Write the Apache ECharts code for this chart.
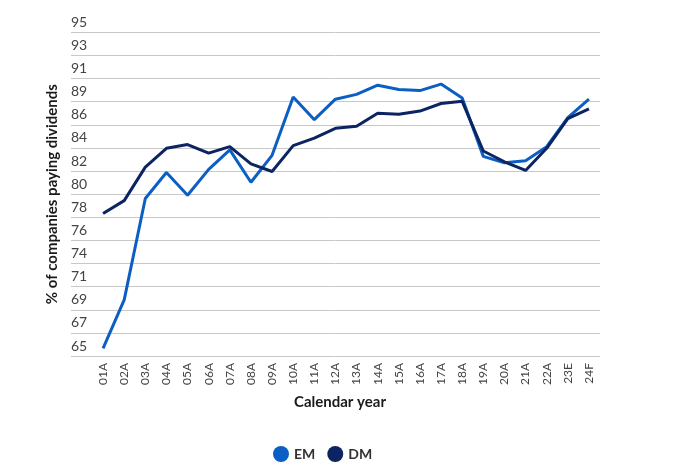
<!DOCTYPE html>
<html>
<head>
<meta charset="utf-8">
<script src="https://cdn.jsdelivr.net/npm/echarts@6/dist/echarts.min.js"></script>
<style>html,body{margin:0;padding:0;background:#fff}#c{width:689px;height:476px}</style>
</head>
<body>
<div id="c"></div>
<script>
const categories = ['01A','02A','03A','04A','05A','06A','07A','08A','09A','10A','11A','12A','13A','14A','15A','16A','17A','18A','19A','20A','21A','22A','23E','24F'];
const emValues = [65.7,70.2,79.6,82.0,79.9,82.3,84.1,81.1,83.6,89.0,86.9,88.8,89.25,90.1,89.7,89.6,90.2,88.9,83.5,82.9,83.1,84.4,87.1,88.8];
const dmValues = [78.2,79.4,82.5,84.25,84.6,83.8,84.4,82.8,82.1,84.5,85.2,86.1,86.3,87.5,87.4,87.7,88.4,88.6,84.0,83.0,82.2,84.25,87.0,87.9];
const yTickLabels = ['65','67','69','71','74','76','78','80','82','84','86','89','91','93','95'];
const yMin = 65, yMax = 95;

const FONT = 'Lato, "Open Sans", sans-serif';
const chart = echarts.init(document.getElementById('c'), null, {renderer: 'canvas'});
chart.setOption({
  animation: false,
  backgroundColor: '#ffffff',
  grid: [
    {left: 92.5, width: 507, top: 32.3, height: 323.7},
    {left: 71, right: 89, top: 32.3, height: 323.7}
  ],
  legend: {
    left: 268, top: 441,
    icon: 'circle', itemWidth: 16, itemHeight: 16, itemGap: 12,
    textStyle: {fontFamily: FONT, fontWeight: 'bold', fontSize: 14, color: '#333'},
    data: ['EM', 'DM']
  },
  xAxis: [
    {
      type: 'category', gridIndex: 0, data: categories, boundaryGap: true,
      axisLine: {show: false}, axisTick: {show: false},
      axisLabel: {rotate: 90, margin: 7, fontFamily: FONT, fontSize: 12, color: '#444'},
      name: 'Calendar year', nameLocation: 'middle', nameGap: 39,
      nameTextStyle: {fontFamily: FONT, fontWeight: 'bold', fontSize: 15, color: '#1a1a1a', padding: [0, 12, 0, 0]}
    },
    {
      type: 'value', gridIndex: 1, show: false, min: 0, max: 1
    }
  ],
  yAxis: [
    {
      type: 'value', gridIndex: 0, min: yMin, max: yMax, show: false,
      splitLine: {show: false}
    },
    {
      type: 'value', gridIndex: 1, min: 0, max: yTickLabels.length - 1, interval: 1,
      axisLine: {show: false}, axisTick: {show: false},
      splitLine: {show: true, lineStyle: {color: '#c8c8c8', width: 1}},
      axisLabel: {
        inside: true, margin: 0, align: 'left', verticalAlign: 'bottom',
        padding: [0, 0, 3, 0],
        fontFamily: FONT, fontSize: 14, color: '#444',
        formatter: (v) => yTickLabels[Math.round(v)] || ''
      },
      name: '% of companies paying dividends', nameLocation: 'middle', nameRotate: 90, nameGap: 2,
      nameTextStyle: {fontFamily: FONT, fontWeight: 'bold', fontSize: 15, color: '#1a1a1a'}
    }
  ],
  series: [
    {
      name: 'EM', type: 'line', xAxisIndex: 0, yAxisIndex: 0, data: emValues,
      symbol: 'none', lineStyle: {width: 3, color: '#0b5fc4'}, itemStyle: {color: '#0b5fc4'}
    },
    {
      name: 'DM', type: 'line', xAxisIndex: 0, yAxisIndex: 0, data: dmValues,
      symbol: 'none', lineStyle: {width: 3, color: '#0c2461'}, itemStyle: {color: '#0c2461'}
    }
  ]
});
</script>
</body>
</html>
